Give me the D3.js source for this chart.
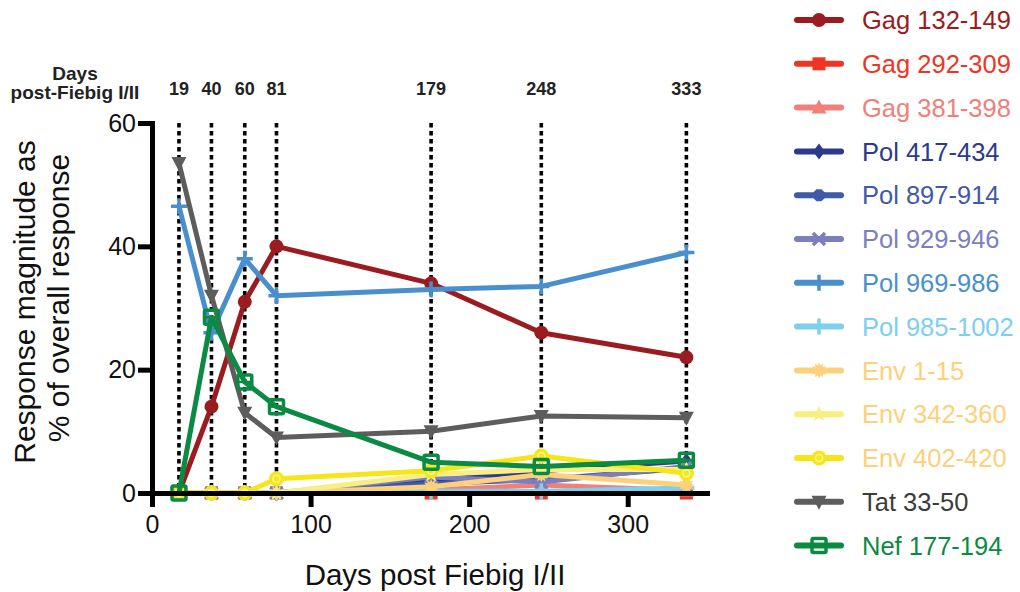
<!DOCTYPE html>
<html>
<head>
<meta charset="utf-8">
<script src="https://cdn.jsdelivr.net/npm/d3@7"></script>
<style>
  html, body { margin: 0; padding: 0; background: #ffffff; }
  svg { display: block; font-family: "Liberation Sans", Arial, Helvetica, sans-serif; }
</style>
</head>
<body>
<svg id="chart" width="1020" height="592"></svg>
<script>
// ---------- data ----------
const xDays = [17, 37.5, 58.5, 78.5, 176, 245.5, 337];
const dayLabels = ["19", "40", "60", "81", "179", "248", "333"];
const xTicks = [0, 100, 200, 300];
const yTicks = [0, 20, 40, 60];

const seriesNames = ["Gag 132-149", "Gag 292-309", "Gag 381-398", "Pol 417-434", "Pol 897-914",
  "Pol 929-946", "Pol 969-986", "Pol 985-1002", "Env 1-15", "Env 342-360", "Env 402-420",
  "Tat 33-50", "Nef 177-194"];

const gag132 = [0, 14, 31, 40, 34, 26, 22];
const gag292 = [0, 0, 0, 0, 0, 0, 0];
const gag381 = [0, 0, 0, 0, 0.5, 1.3, 0.4];
const pol417 = [0, 0, 0, 0, 2, 3.6, 5.2];
const pol897 = [0, 0, 0, 0, 1.5, 2.2, 4];
const pol929 = [0, 0, 0, 0, 2.6, 1.8, 4.3];
const pol969 = [46.5, 26, 38, 32, 33, 33.5, 39];
const pol985 = [0, 0, 0, 0, 0.3, 0.3, 0.8];
const env1 = [0, 0, 0, 0, 1, 3, 1.3];
const env342 = [0, 0, 0, 0, 3, 3.8, 3.8];
const env402 = [0, 0, 0, 2.3, 3.6, 6, 3.2];
const tat33 = [53.5, 32, 13, 9, 10, 12.5, 12.2];
const nef177 = [0, 28.5, 18, 14, 5, 4.3, 5.3];

const seriesValues = [gag132, gag292, gag381, pol417, pol897, pol929, pol969, pol985, env1, env342, env402, tat33, nef177];
const lineColors = ["#9b1c20", "#ee3524", "#f08078", "#2b3a8c", "#3f5aa8", "#7b7fc0", "#4a8fcd", "#7dcff0", "#fdd07a", "#f8ef80", "#f5e61a", "#5d5d5d", "#0a8a42"];
const textColors = ["#9b1c20", "#ee3524", "#f08078", "#2b3a8c", "#3f5aa8", "#7b7fc0", "#4a8fcd", "#7dcff0", "#fdd07a", "#fdd07a", "#fdd07a", "#3c3c3c", "#0a8a42"];
const markerTypes = ["circle", "square", "triangleUp", "diamond", "hexagon", "times", "plus", "plus", "burst", "star", "ringCircle", "triangleDown", "openSquare"];

// ---------- layout ----------
const svg = d3.select("#chart");
const x = d3.scaleLinear().domain([0, 350]).range([152, 707]);
const y = d3.scaleLinear().domain([0, 60]).range([493, 123]);

// ---------- marker drawing ----------
function drawMarker(g, type, color, cx, cy) {
  const m = g.append("g").attr("transform", `translate(${cx},${cy})`);
  switch (type) {
    case "circle":
      m.append("circle").attr("r", 7).attr("fill", color); break;
    case "square":
      m.append("rect").attr("x", -6.5).attr("y", -6.5).attr("width", 13).attr("height", 13).attr("fill", color); break;
    case "triangleUp":
      m.append("path").attr("d", "M0,-8L7.5,6L-7.5,6Z").attr("fill", color); break;
    case "triangleDown":
      m.append("path").attr("d", "M0,8L7.5,-6L-7.5,-6Z").attr("fill", color); break;
    case "diamond":
      m.append("path").attr("d", "M0,-8L6,0L0,8L-6,0Z").attr("fill", color); break;
    case "hexagon": {
      const pts = d3.range(8).map(i => { const a = Math.PI / 8 + i * Math.PI / 4; return [6.5 * Math.cos(a), 6.5 * Math.sin(a)]; });
      m.append("path").attr("d", "M" + pts.join("L") + "Z").attr("fill", color); break;
    }
    case "times":
      m.append("path").attr("d", "M-6,-6L6,6M6,-6L-6,6").attr("stroke", color).attr("stroke-width", 3.5).attr("fill", "none"); break;
    case "plus":
      m.append("path").attr("d", "M-8,0L8,0M0,-8L0,8").attr("stroke", color).attr("stroke-width", 3.5).attr("fill", "none"); break;
    case "burst": {
      const pts = d3.range(24).map(i => { const a = i * Math.PI / 12; const r = i % 2 ? 5 : 8; return [r * Math.cos(a), r * Math.sin(a)]; });
      m.append("path").attr("d", "M" + pts.join("L") + "Z").attr("fill", color); break;
    }
    case "star": {
      const pts = d3.range(10).map(i => { const a = -Math.PI / 2 + i * Math.PI / 5; const r = i % 2 ? 3.6 : 8.5; return [r * Math.cos(a), r * Math.sin(a)]; });
      m.append("path").attr("d", "M" + pts.join("L") + "Z").attr("fill", color); break;
    }
    case "ringCircle":
      m.append("circle").attr("r", 7.5).attr("fill", color);
      m.append("circle").attr("r", 3.5).attr("fill", "none").attr("stroke", "#fbf59a").attr("stroke-width", 1.5); break;
    case "openSquare":
      m.append("rect").attr("x", -7).attr("y", -7).attr("width", 14).attr("height", 14).attr("rx", 1.5)
        .attr("fill", "none").attr("stroke", color).attr("stroke-width", 3.5);
      m.append("line").attr("x1", -7).attr("x2", 7).attr("y1", 0).attr("y2", 0).attr("stroke", color).attr("stroke-width", 2.5); break;
  }
}

// ---------- dotted verticals ----------
svg.append("g").selectAll("line").data(xDays).join("line")
  .attr("x1", d => x(d)).attr("x2", d => x(d))
  .attr("y1", y(60)).attr("y2", y(0))
  .attr("stroke", "#000").attr("stroke-width", 3.6)
  .attr("stroke-dasharray", "4.5,3.5");

// top day labels
svg.append("g").selectAll("text").data(dayLabels).join("text")
  .attr("x", (d, i) => x(xDays[i])).attr("y", 95)
  .attr("text-anchor", "middle").attr("font-weight", "bold").attr("font-size", 18)
  .attr("fill", "#222").text(d => d);
svg.append("text").attr("x", 75).attr("y", 80).attr("text-anchor", "middle")
  .attr("font-weight", "bold").attr("font-size", 19).attr("fill", "#222").text("Days");
svg.append("text").attr("x", 75).attr("y", 99).attr("text-anchor", "middle")
  .attr("font-weight", "bold").attr("font-size", 19).attr("fill", "#222").text("post-Fiebig I/II");

// ---------- series ----------
const lineGen = d3.line().x(d => x(d[0])).y(d => y(d[1]));
seriesValues.forEach((vals, si) => {
  const g = svg.append("g");
  const pts = vals.map((v, i) => [xDays[i], v]);
  g.append("path").attr("d", lineGen(pts)).attr("fill", "none")
    .attr("stroke", lineColors[si]).attr("stroke-width", 5).attr("stroke-linejoin", "round");
  pts.forEach(p => drawMarker(g, markerTypes[si], lineColors[si], x(p[0]), y(p[1])));
});

// ---------- axes ----------
const xAxis = svg.append("g").attr("transform", `translate(0,${y(0)})`)
  .call(d3.axisBottom(x).tickValues(xTicks).tickSize(14).tickSizeOuter(0).tickPadding(8));
const yAxis = svg.append("g").attr("transform", `translate(${x(0)},0)`)
  .call(d3.axisLeft(y).tickValues(yTicks).tickSize(14).tickSizeOuter(0).tickPadding(2));
[xAxis, yAxis].forEach(a => {
  a.select(".domain").attr("stroke", "#000").attr("stroke-width", 5);
  a.selectAll(".tick line").attr("stroke", "#000").attr("stroke-width", 5);
  a.selectAll(".tick text").attr("font-size", 25).attr("fill", "#111")
    .attr("font-family", "'Liberation Sans', Arial, sans-serif");
});
xAxis.select(".domain").attr("stroke-linecap", "square");
yAxis.select(".domain").attr("stroke-linecap", "square");

// axis titles
svg.append("text").attr("x", 435).attr("y", 585).attr("text-anchor", "middle")
  .attr("font-size", 29.5).attr("fill", "#111").text("Days post Fiebig I/II");
svg.append("text").attr("transform", "translate(35,302) rotate(-90)").attr("text-anchor", "middle")
  .attr("font-size", 30).attr("fill", "#111").text("Response magnitude as");
svg.append("text").attr("transform", "translate(69,298) rotate(-90)").attr("text-anchor", "middle")
  .attr("font-size", 30).attr("fill", "#111").text("% of overall response");

// ---------- legend ----------
const legend = svg.append("g");
seriesNames.forEach((name, i) => {
  const ly = 20 + i * 43.8;
  const g = legend.append("g");
  g.append("line").attr("x1", 797).attr("x2", 841).attr("y1", ly).attr("y2", ly)
    .attr("stroke", lineColors[i]).attr("stroke-width", 6).attr("stroke-linecap", "round");
  drawMarker(g, markerTypes[i], lineColors[i], 819, ly);
  g.append("text").attr("x", 862).attr("y", ly).attr("dy", "0.36em")
    .attr("font-size", 25.5).attr("fill", textColors[i]).text(name);
});
</script>
</body>
</html>
